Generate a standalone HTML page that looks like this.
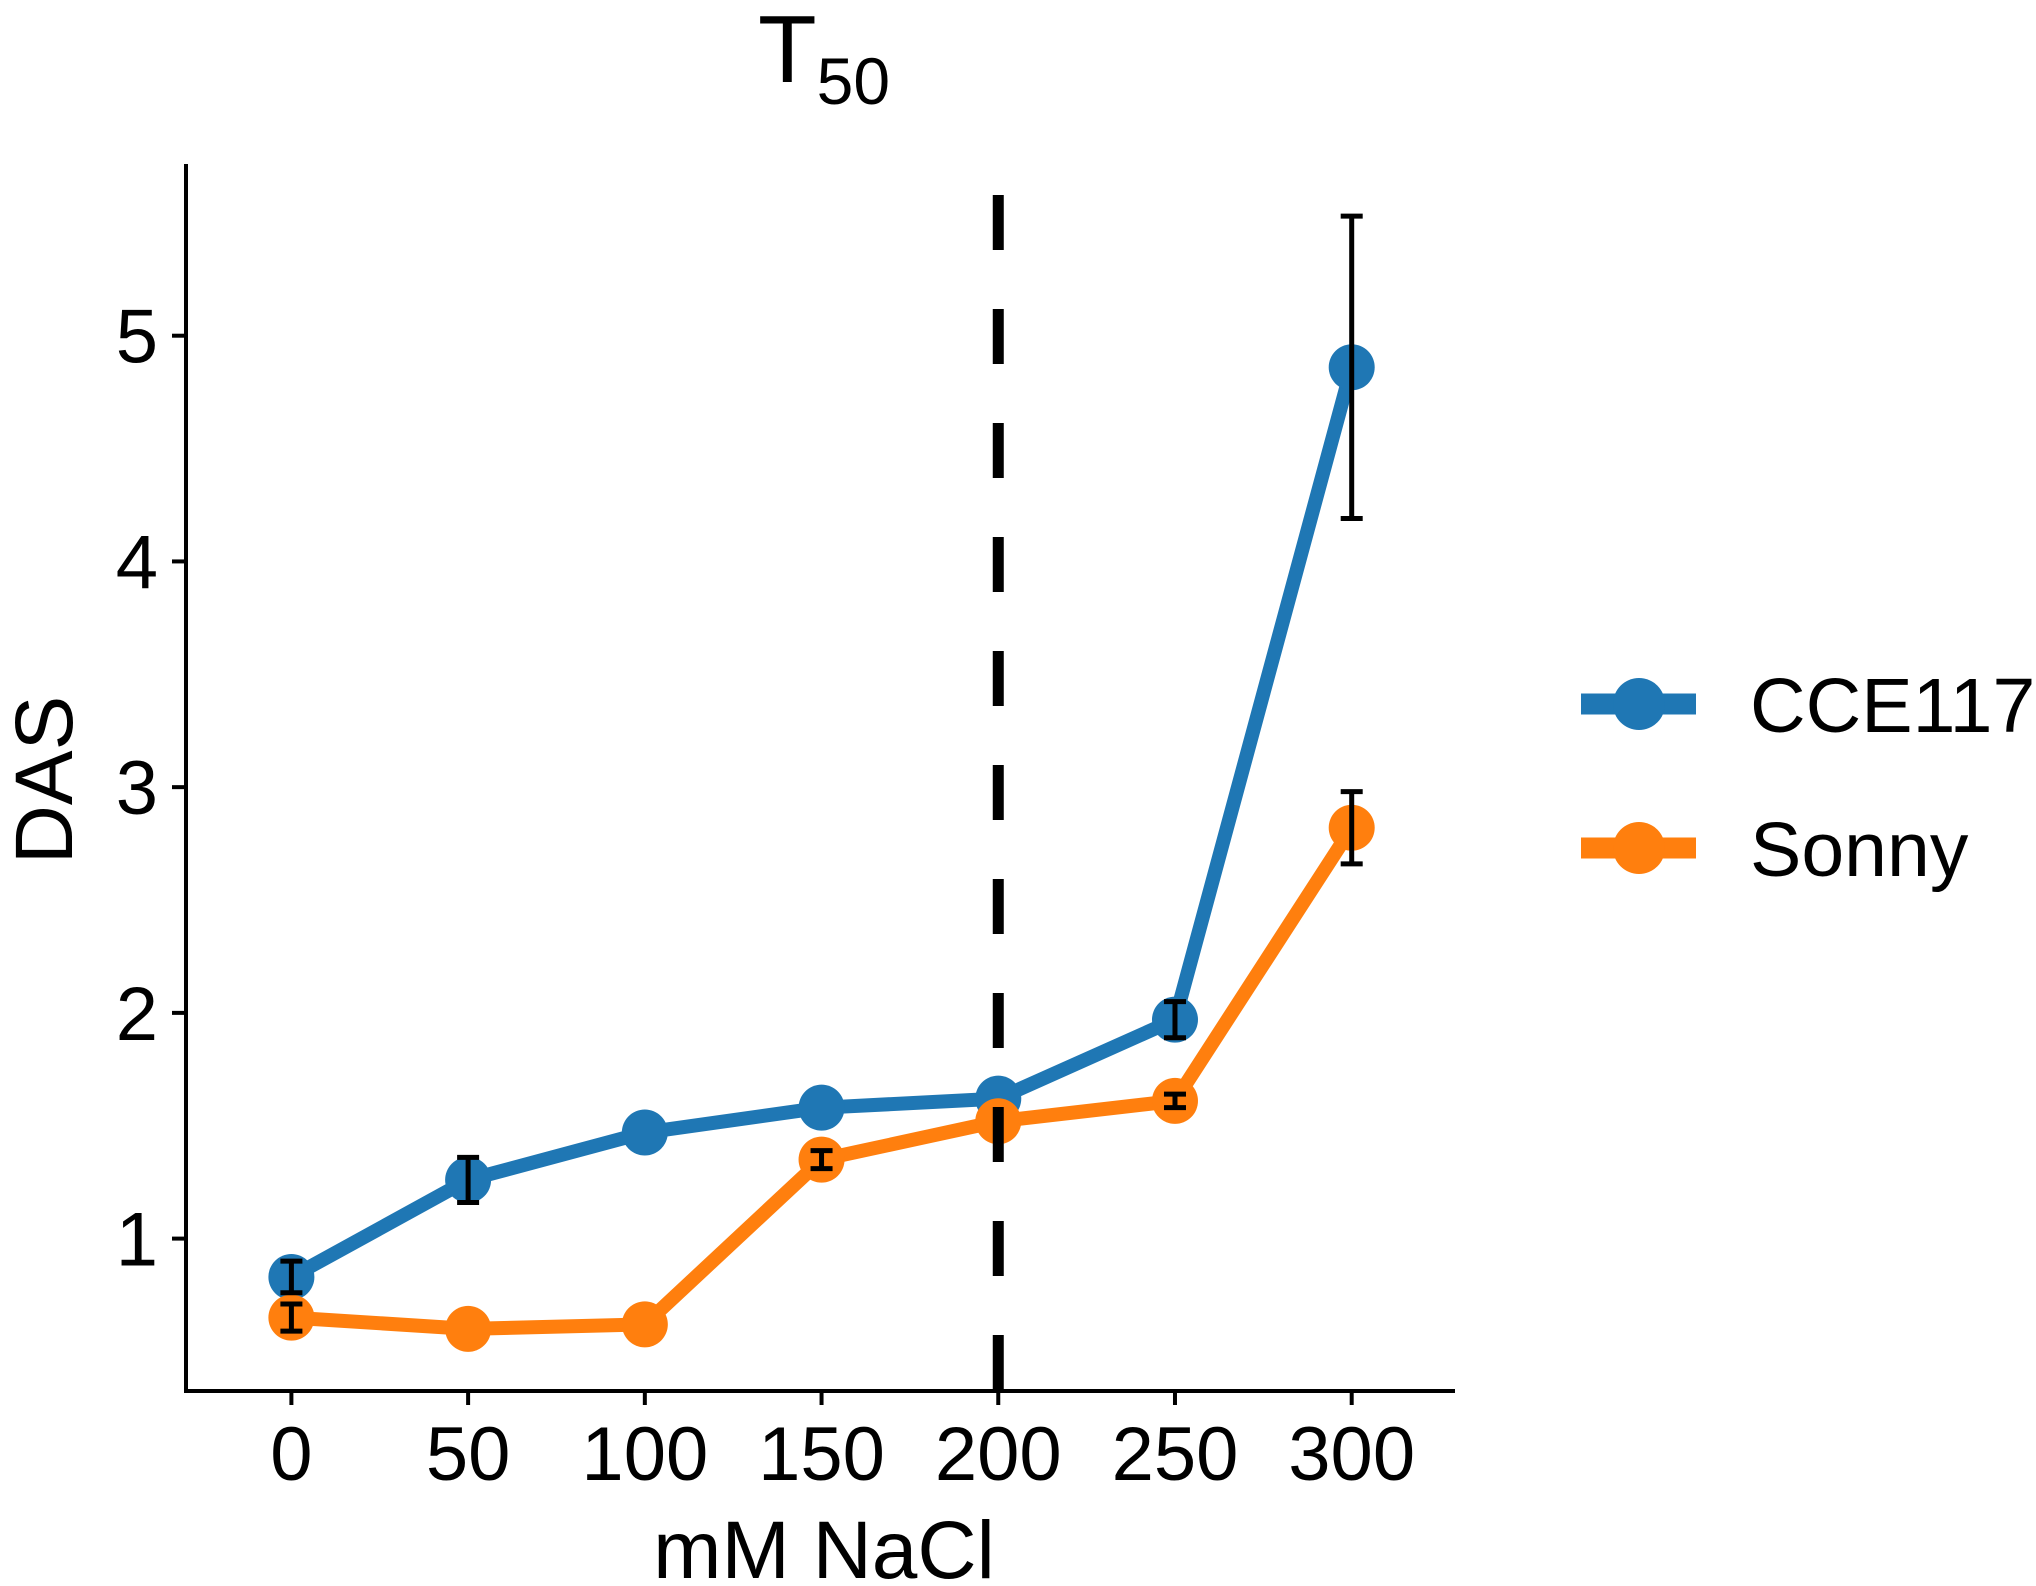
<!DOCTYPE html>
<html><head><meta charset="utf-8"><style>
html,body{margin:0;padding:0;background:#fff;}
svg{display:block;font-family:"Liberation Sans",Arial,sans-serif;}
</style></head><body>
<svg id="chart" width="2036" height="1586" viewBox="0 0 2036 1586">
<g id="axes"></g><g id="marks"></g><g id="over"></g><g id="legend"></g>
</svg>
<script>
const categories = [0, 50, 100, 150, 200, 250, 300];
const cceValues = [0.83, 1.26, 1.47, 1.58, 1.62, 1.97, 4.86];
const cceErrors = [0.07, 0.10, 0.0, 0.0, 0.0, 0.08, 0.67];
const sonnyValues = [0.65, 0.60, 0.62, 1.35, 1.52, 1.61, 2.82];
const sonnyErrors = [0.06, 0.0, 0.0, 0.04, 0.0, 0.03, 0.16];
const xTicks = [0, 50, 100, 150, 200, 250, 300];
const yTicks = [1, 2, 3, 4, 5];
const vline = 200;

const NS = "http://www.w3.org/2000/svg";
function X(v){ return 291.4 + (v - 0) * (1351.7 - 291.4) / 300; }
function Y(v){ return 1238.6 - (v - 1) * (1238.6 - 335.7) / 4; }
function mk(tag, attrs, parent, text){
  const e = document.createElementNS(NS, tag);
  for (const k in attrs) e.setAttribute(k, attrs[k]);
  if (text !== undefined) e.textContent = text;
  parent.appendChild(e);
  return e;
}
const axes = document.getElementById('axes');
const marks = document.getElementById('marks');
const over = document.getElementById('over');
const legend = document.getElementById('legend');

let e;
e = mk('line', {x1:186, y1:164, x2:186, y2:1393, stroke:'#000', 'stroke-width':4}, axes);


e = mk('line', {x1:184, y1:1391, x2:1455, y2:1391, stroke:'#000', 'stroke-width':4}, axes);



xTicks.forEach(t => {
  const tk = mk('line', {x1:X(t), y1:1391, x2:X(t), y2:1405, stroke:'#000', 'stroke-width':4}, axes);
  
  
  const lb = mk('text', {x:X(t), y:1480, 'font-size':76, 'text-anchor':'middle', fill:'#000'}, axes, String(t));
  
  
});
yTicks.forEach(t => {
  const tk = mk('line', {x1:172, y1:Y(t), x2:186, y2:Y(t), stroke:'#000', 'stroke-width':4}, axes);
  
  
  const lb = mk('text', {x:158, y:Y(t)+27, 'font-size':76, 'text-anchor':'end', fill:'#000'}, axes, String(t));
  
  
});
e = mk('text', {x:824, y:1578, 'font-size':82, 'text-anchor':'middle', fill:'#000'}, axes, 'mM NaCl');


e = mk('text', {x:0, y:0, 'font-size':82, 'text-anchor':'middle', fill:'#000', transform:'translate(72,780) rotate(-90)'}, axes, 'DAS');


e = mk('text', {x:758, y:82, 'font-size':96, fill:'#000'}, axes, 'T');


mk('tspan', {'font-size':66, dy:22}, e, '50');

function series(vals, errs, color, name){
  const pts = categories.map((c,i)=>X(c)+','+Y(vals[i])).join(' ');
  const pl = mk('polyline', {points:pts, fill:'none', stroke:color, 'stroke-width':14, 'stroke-linejoin':'round'}, marks);
  
  
  categories.forEach((c,i)=>{
    const pt = mk('circle', {cx:X(c), cy:Y(vals[i]), r:23, fill:color}, marks);
    
    
  });
}
function bars(vals, errs, name){
  categories.forEach((c,i)=>{
    if (!errs[i]) return;
    const x = X(c), y1 = Y(vals[i]-errs[i]), y2 = Y(vals[i]+errs[i]);
    const g = mk('path', {d:`M${x-11},${y1}H${x+11}M${x},${y1}V${y2}M${x-11},${y2}H${x+11}`, stroke:'#000', 'stroke-width':5, fill:'none'}, over);
    
    
  });
}
series(cceValues, cceErrors, '#1f77b4', 'cce117');
series(sonnyValues, sonnyErrors, '#ff7f0e', 'sonny');
bars(cceValues, cceErrors, 'cce117');
bars(sonnyValues, sonnyErrors, 'sonny');

e = mk('line', {x1:X(vline), y1:195, x2:X(vline), y2:1391, stroke:'#000', 'stroke-width':11, 'stroke-dasharray':'55 59'}, over);



[['CCE117','#1f77b4',704],['Sonny','#ff7f0e',848]].forEach(([lab,col,y])=>{
  const l = mk('line', {x1:1581, y1:y, x2:1696, y2:y, stroke:col, 'stroke-width':21}, legend);
  
  
  const c = mk('circle', {cx:1639, cy:y, r:26, fill:col}, legend);
  
  
  const t = mk('text', {x:1750, y:y+28, 'font-size':77, fill:'#000'}, legend, lab);
  
  
});
</script>
</body></html>
